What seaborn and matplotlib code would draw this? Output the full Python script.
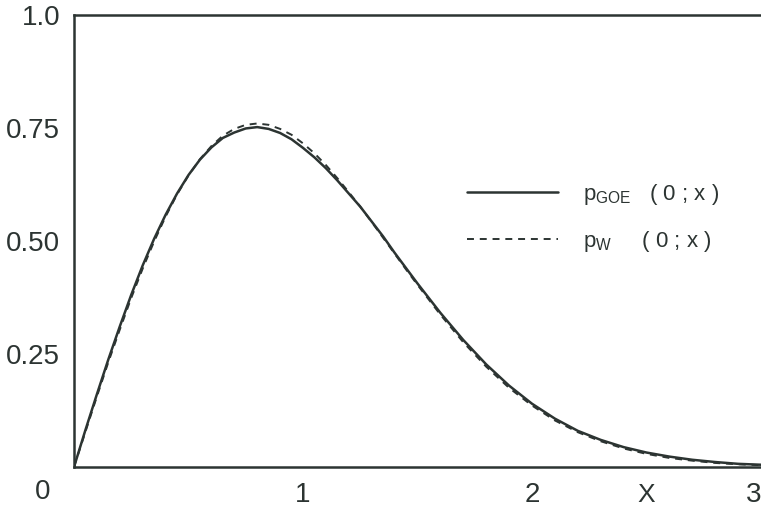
import numpy as np
import pandas as pd
import matplotlib
matplotlib.use("Agg")
import matplotlib.pyplot as plt
import seaborn as sns

# Nearest-neighbour spacing distribution: exact GOE result vs. Wigner surmise
x_vals = [0.00, 0.05, 0.10, 0.15, 0.20, 0.25, 0.30, 0.35, 0.40, 0.45,
          0.50, 0.55, 0.60, 0.65, 0.70, 0.75, 0.80, 0.85, 0.90, 0.95,
          1.00, 1.05, 1.10, 1.15, 1.20, 1.25, 1.30, 1.35, 1.40, 1.45,
          1.50, 1.60, 1.70, 1.80, 1.90, 2.00, 2.10, 2.20, 2.30, 2.40,
          2.50, 2.60, 2.70, 2.80, 2.90, 3.00]

p_goe = [0.000, 0.082, 0.161, 0.238, 0.311, 0.381, 0.446, 0.505, 0.558, 0.605,
         0.646, 0.680, 0.707, 0.728, 0.740, 0.749, 0.752, 0.748, 0.739, 0.725,
         0.706, 0.685, 0.661, 0.634, 0.605, 0.576, 0.543, 0.510, 0.474, 0.440,
         0.406, 0.341, 0.281, 0.227, 0.180, 0.140, 0.107, 0.080, 0.060, 0.044,
         0.032, 0.023, 0.016, 0.011, 0.007, 0.005]

p_wigner = [0.000, 0.078, 0.156, 0.232, 0.304, 0.374, 0.439, 0.499, 0.554, 0.603,
            0.645, 0.681, 0.710, 0.733, 0.748, 0.757, 0.760, 0.757, 0.748, 0.735,
            0.716, 0.694, 0.668, 0.639, 0.608, 0.576, 0.542, 0.507, 0.472, 0.437,
            0.403, 0.337, 0.276, 0.222, 0.175, 0.136, 0.103, 0.077, 0.057, 0.041,
            0.029, 0.020, 0.014, 0.009, 0.006, 0.004]

x_ticks = [1, 2, 3]
x_tick_labels = ["1", "2", "3"]
y_ticks = [0.25, 0.50, 0.75, 1.0]
y_tick_labels = ["0.25", "0.50", "0.75", "1.0"]

label_goe = r"$\mathrm{p}_{\mathrm{GOE}}$" + "   ( 0 ; x )"
label_w = r"$\mathrm{p}_{\mathrm{W}}$" + "     ( 0 ; x )"

sns.set_style("white")
ink = "#2c3432"
plt.rcParams["font.family"] = ["Liberation Sans", "DejaVu Sans"]
plt.rcParams["mathtext.fontset"] = "custom"
plt.rcParams["mathtext.rm"] = "Liberation Sans"
plt.rcParams["mathtext.it"] = "Liberation Sans"
plt.rcParams["lines.scale_dashes"] = False

df = pd.DataFrame({"x": x_vals, "goe": p_goe, "wigner": p_wigner})

fig = plt.figure(figsize=(7.61, 5.14), dpi=100)
ax = fig.add_axes([74 / 761, 1 - 467 / 514, 687 / 761, 452 / 514])

sns.lineplot(data=df, x="x", y="goe", ax=ax, color=ink, linewidth=1.8,
             label=label_goe, sort=False)
sns.lineplot(data=df, x="x", y="wigner", ax=ax, color=ink, linewidth=1.4,
             linestyle=(0, (5, 4.2)), label=label_w, sort=False)

ax.set_xlim(0, 3)
ax.set_ylim(0, 1.0)
ax.set_xticks(x_ticks)
ax.set_xticklabels(x_tick_labels)
ax.set_yticks(y_ticks)
ax.set_yticklabels(y_tick_labels)
ax.set_xlabel("")
ax.set_ylabel("")

for side in ["left", "bottom", "top"]:
    ax.spines[side].set_color(ink)
    ax.spines[side].set_linewidth(1.8)
ax.spines["right"].set_visible(False)

ax.tick_params(axis="both", direction="in", length=10, width=1.6, color=ink,
               labelsize=20, labelcolor=ink)
ax.tick_params(axis="x", pad=11)
ax.tick_params(axis="y", pad=10)
# the last abscissa label sits flush with the right edge of the figure
ax.get_xticklabels()[-1].set_horizontalalignment("right")

# shared origin label and the abscissa name
ax.annotate("0", xy=(0, 0), xycoords="data", xytext=(-31, -25),
            textcoords="offset pixels", ha="center", va="center",
            fontsize=20, color=ink)
ax.annotate("X", xy=(0, 0), xycoords="axes fraction", xytext=(572, -28),
            textcoords="offset pixels", ha="center", va="center",
            fontsize=19, color=ink)

leg = ax.legend(loc="center left", bbox_to_anchor=(0.572, 0.551),
                frameon=False, fontsize=16, handlelength=4.1,
                handletextpad=1.1, labelspacing=1.0, borderpad=0,
                borderaxespad=0)
for t in leg.get_texts():
    t.set_color(ink)

fig.savefig("out.png", dpi=100)
